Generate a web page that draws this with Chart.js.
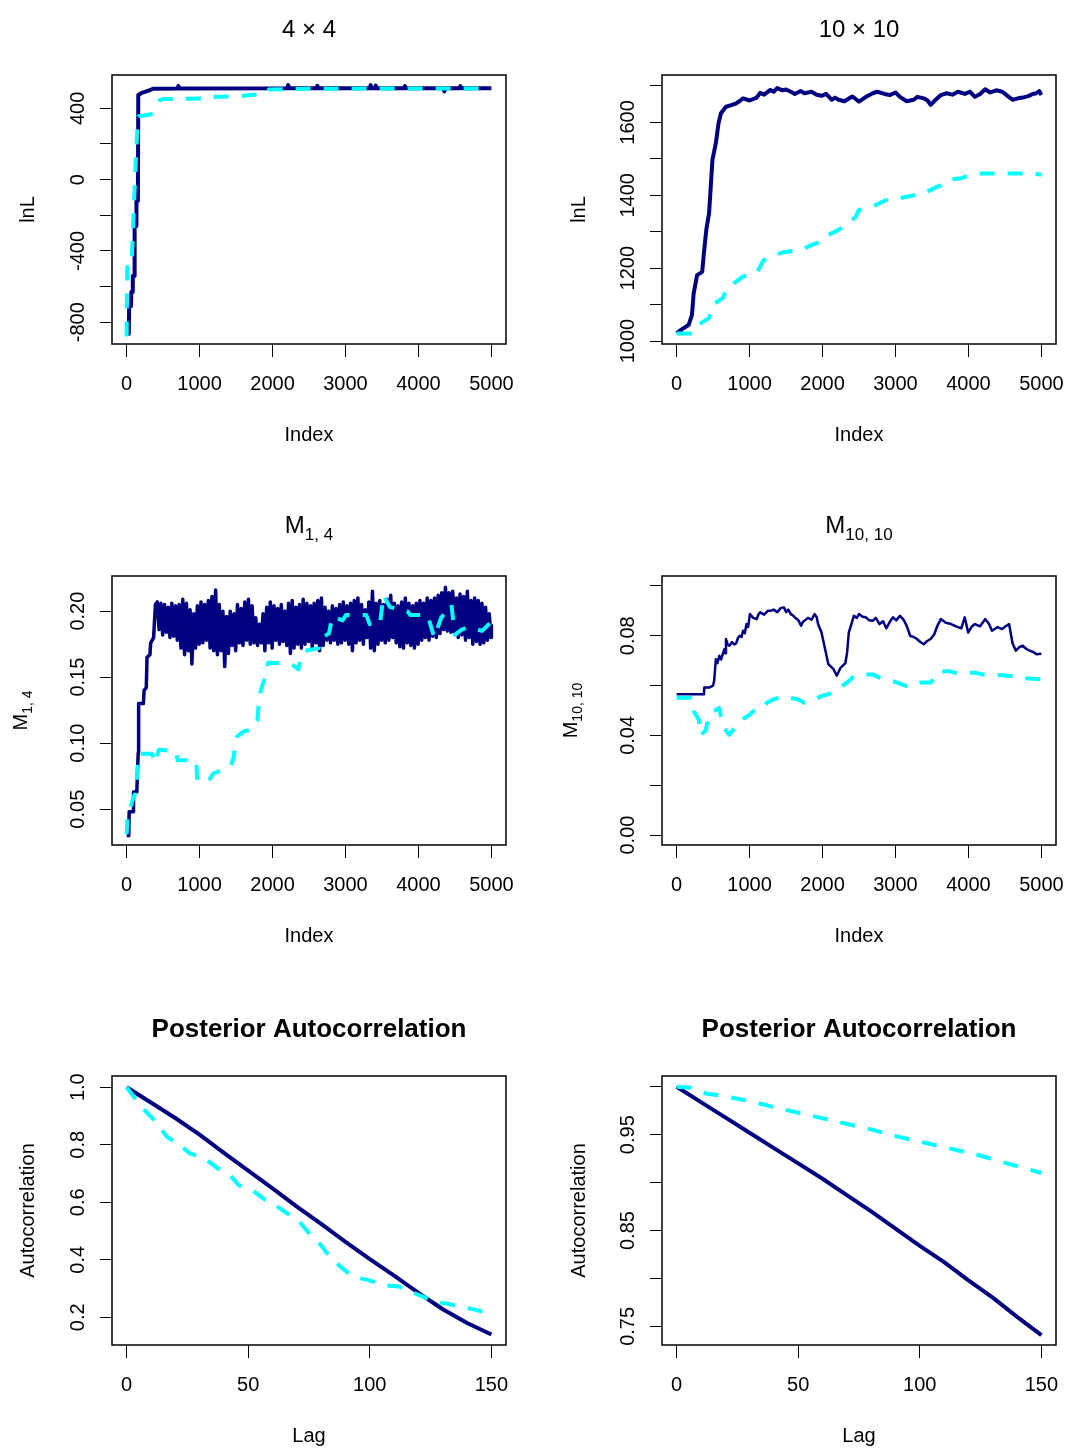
<!DOCTYPE html>
<html>
<head>
<meta charset="utf-8">
<script src="https://cdn.jsdelivr.net/npm/chart.js@4.4.1/dist/chart.umd.min.js"></script>
<style>
  html, body { margin: 0; padding: 0; background: #fff; }
  #page { position: relative; width: 1068px; height: 1448px; overflow: hidden; }
  canvas { position: absolute; }
</style>
</head>
<body>
<div id="page">
  <canvas id="p1" width="534" height="447" style="left:0;top:0"></canvas>
  <canvas id="p2" width="518" height="447" style="left:550px;top:0"></canvas>
  <canvas id="p3" width="534" height="447" style="left:0;top:501px"></canvas>
  <canvas id="p4" width="518" height="447" style="left:550px;top:501px"></canvas>
  <canvas id="p5" width="534" height="447" style="left:0;top:1001px"></canvas>
  <canvas id="p6" width="518" height="447" style="left:550px;top:1001px"></canvas>
</div>
<script>
// ── Data ───────────────────────────────────────────────────────────────────

const indexTicks = [0, 1000, 2000, 3000, 4000, 5000];
const lagTicks   = [0, 50, 100, 150];

// 4 x 4 : lnL trace
const lnL4BlueIdx = [1, 30, 35, 60, 65, 80, 85, 105, 110, 130, 135, 155, 160, 200, 300, 370, 700, 710, 720,
  2200, 2215, 2230, 2600, 2615, 2630, 3330, 3345, 3360, 3400, 3415, 3430, 3800, 3815, 3830,
  4340, 4355, 4370, 4560, 4575, 4590, 5000];
const lnL4Blue = [-866, -866, -710, -710, -630, -630, -540, -540, -260, -260, -120, -120, 475, 485, 500, 510, 511, 526, 511,
  512, 530, 512, 512, 526, 512, 512, 530, 512, 512, 527, 512, 512, 525, 512,
  512, 495, 512, 512, 525, 512, 512];
const lnL4CyanIdx = [1, 5, 10, 60, 75, 100, 130, 150, 160, 330, 400, 450, 500, 1060, 1100, 1600, 1900, 1950, 2500, 5000];
const lnL4Cyan = [-880, -610, -490, -490, -420, -150, 150, 300, 355, 365, 420, 445, 452, 455, 462, 470, 482, 505, 510, 512];
const lnL4Ticks  = [-800, -600, -400, -200, 0, 200, 400];
const lnL4Labels = ['-800', '', '-400', '', '0', '', '400'];

// 10 x 10 : lnL trace
const lnL10BlueIdx = [1, 70, 164, 210, 234, 281, 351, 374, 407, 445, 468, 491, 538, 575, 608, 677, 760,
  817, 860, 911, 1000, 1098, 1145, 1200, 1285, 1330, 1379, 1450, 1500, 1566, 1620, 1700, 1752, 1850, 1920,
  1986, 2050, 2126, 2170, 2220, 2300, 2407, 2450, 2500, 2580, 2688, 2750, 2850, 2921, 3000, 3061, 3154,
  3250, 3300, 3388, 3440, 3482, 3540, 3622, 3700, 3780, 3856, 3950, 4020, 4089, 4160, 4229, 4300, 4380,
  4463, 4540, 4604, 4680, 4744, 4820, 4880, 4931, 4970, 5000];
const lnL10Blue = [1021, 1032, 1044, 1071, 1131, 1181, 1190, 1241, 1305, 1351, 1423, 1497, 1543, 1598, 1625, 1643, 1648,
  1652, 1658, 1666, 1660, 1668, 1681, 1676, 1689, 1684, 1694, 1688, 1690, 1684, 1678, 1686, 1680, 1684, 1676,
  1673, 1678, 1662, 1668, 1662, 1658, 1671, 1665, 1657, 1668, 1680, 1684, 1678, 1675, 1682, 1670, 1658,
  1662, 1670, 1666, 1660, 1648, 1660, 1675, 1680, 1676, 1684, 1678, 1684, 1670, 1678, 1691, 1682, 1688,
  1684, 1672, 1662, 1666, 1668, 1672, 1678, 1680, 1686, 1675];
const lnL10CyanIdx = [1, 210, 257, 445, 491, 632, 701, 817, 911, 1098, 1192, 1332, 1472, 1706, 1846, 2033, 2080, 2220, 2360, 2454,
  2500, 2688, 2874, 3061, 3154, 3388, 3482, 3622, 3716, 3902, 4089, 4900, 5000];
const lnL10Cyan = [1021, 1021, 1040, 1063, 1099, 1118, 1149, 1163, 1177, 1187, 1222, 1236, 1244, 1250, 1263, 1277, 1291, 1305, 1324, 1341,
  1360, 1369, 1387, 1392, 1396, 1405, 1415, 1428, 1442, 1447, 1460, 1460, 1456];
const lnL10Ticks  = [1000, 1100, 1200, 1300, 1400, 1500, 1600, 1700];
const lnL10Labels = ['1000', '', '1200', '', '1400', '', '1600', ''];

// M[1,4] trace (burn-in, then the dense band of the chain)
const m14BlueIdx = [1, 30, 35, 90, 95, 140, 150, 160, 165, 230, 240, 270, 280, 320, 330, 370, 395,
  420, 445, 470, 495, 520, 545, 570, 595, 620, 645, 670, 695, 720, 745, 770, 795, 820, 845, 870, 895,
  920, 945, 970, 995, 1020, 1045, 1070, 1095, 1120, 1145, 1170, 1195, 1220, 1245, 1270, 1295, 1320, 1345, 1370, 1395,
  1420, 1445, 1470, 1495, 1520, 1545, 1570, 1595, 1620, 1645, 1670, 1695, 1720, 1745, 1770, 1795, 1820, 1845, 1870, 1895,
  1920, 1945, 1970, 1995, 2020, 2045, 2070, 2095, 2120, 2145, 2170, 2195, 2220, 2245, 2270, 2295, 2320, 2345, 2370, 2395,
  2420, 2445, 2470, 2495, 2520, 2545, 2570, 2595, 2620, 2645, 2670, 2695, 2720, 2745, 2770, 2795, 2820, 2845, 2870, 2895,
  2920, 2945, 2970, 2995, 3020, 3045, 3070, 3095, 3120, 3145, 3170, 3195, 3220, 3245, 3270, 3295, 3320, 3345, 3370, 3395,
  3420, 3445, 3470, 3495, 3520, 3545, 3570, 3595, 3620, 3645, 3670, 3695, 3720, 3745, 3770, 3795, 3820, 3845, 3870, 3895,
  3920, 3945, 3970, 3995, 4020, 4045, 4070, 4095, 4120, 4145, 4170, 4195, 4220, 4245, 4270, 4295, 4320, 4345, 4370, 4395,
  4420, 4445, 4470, 4495, 4520, 4545, 4570, 4595, 4620, 4645, 4670, 4695, 4720, 4745, 4770, 4795, 4820, 4845, 4870, 4895,
  4920, 4945, 4970, 4995, 5000];
const m14Blue = [0.030, 0.030, 0.048, 0.048, 0.063, 0.063, 0.080, 0.093, 0.130, 0.130, 0.140, 0.142, 0.165, 0.167, 0.176, 0.180, 0.205,
  0.207, 0.186, 0.206, 0.182, 0.205, 0.184, 0.203, 0.180, 0.206, 0.181, 0.204, 0.178, 0.205, 0.172, 0.209, 0.167, 0.206, 0.170, 0.201, 0.160,
  0.198, 0.172, 0.204, 0.175, 0.207, 0.176, 0.205, 0.178, 0.208, 0.172, 0.211, 0.170, 0.216, 0.167, 0.205, 0.170, 0.200, 0.158, 0.196, 0.168,
  0.200, 0.174, 0.198, 0.170, 0.205, 0.176, 0.202, 0.174, 0.207, 0.178, 0.209, 0.175, 0.204, 0.176, 0.195, 0.174, 0.190, 0.176, 0.198, 0.170,
  0.203, 0.176, 0.207, 0.172, 0.204, 0.178, 0.202, 0.175, 0.205, 0.177, 0.200, 0.174, 0.206, 0.168, 0.208, 0.172, 0.203, 0.175, 0.205, 0.172,
  0.209, 0.175, 0.206, 0.177, 0.204, 0.172, 0.206, 0.176, 0.208, 0.170, 0.210, 0.174, 0.203, 0.178, 0.200, 0.176, 0.204, 0.178, 0.202, 0.175,
  0.205, 0.176, 0.207, 0.178, 0.204, 0.175, 0.206, 0.170, 0.208, 0.176, 0.210, 0.178, 0.205, 0.175, 0.201, 0.180, 0.207, 0.172, 0.215, 0.170,
  0.206, 0.175, 0.208, 0.178, 0.205, 0.176, 0.209, 0.178, 0.212, 0.180, 0.206, 0.176, 0.204, 0.173, 0.207, 0.172, 0.210, 0.176, 0.206, 0.174,
  0.204, 0.172, 0.206, 0.175, 0.208, 0.178, 0.206, 0.180, 0.210, 0.178, 0.208, 0.181, 0.210, 0.180, 0.212, 0.183, 0.214, 0.186, 0.218, 0.185,
  0.214, 0.184, 0.215, 0.183, 0.210, 0.180, 0.213, 0.182, 0.211, 0.178, 0.215, 0.180, 0.208, 0.175, 0.210, 0.177, 0.208, 0.175, 0.206, 0.176,
  0.203, 0.178, 0.198, 0.180, 0.190];
const m14CyanIdx = [1, 10, 20, 45, 100, 115, 147, 161, 170, 348, 394, 441, 674, 700, 953, 970, 1140, 1187, 1420, 1467,
  1490, 1513, 1607, 1700, 1793, 1810, 1840, 1887, 1940, 2259, 2353, 2400, 2446, 2633, 2680, 2773, 2820, 2960, 3006, 3286,
  3333, 3473, 3519, 3612, 3846, 3893, 3986, 4125, 4218, 4312, 4452, 4499, 4592, 4685, 4872, 5000];
const m14Cyan = [0.031, 0.041, 0.046, 0.050, 0.060, 0.061, 0.076, 0.090, 0.092, 0.092, 0.085, 0.095, 0.094, 0.087, 0.087, 0.071, 0.073, 0.077, 0.082, 0.089,
  0.100, 0.105, 0.109, 0.110, 0.117, 0.130, 0.140, 0.148, 0.161, 0.160, 0.156, 0.167, 0.170, 0.172, 0.180, 0.183, 0.196, 0.193, 0.197, 0.197,
  0.190, 0.190, 0.212, 0.203, 0.200, 0.197, 0.197, 0.197, 0.180, 0.195, 0.205, 0.182, 0.186, 0.188, 0.185, 0.192];
const m14Ticks  = [0.05, 0.10, 0.15, 0.20];
const m14Labels = ['0.05', '0.10', '0.15', '0.20'];

// M[10,10] trace
const m1010BlueIdx = [1, 374, 380, 445, 500, 515, 538, 560, 585, 610,
  655, 665, 677, 700, 724, 760, 790, 817, 840, 864,
  890, 911, 935, 958, 980, 1005, 1050, 1098, 1120, 1145,
  1200, 1250, 1285, 1330, 1380, 1430, 1472, 1500, 1530, 1566,
  1600, 1636, 1670, 1706, 1730, 1752, 1800, 1850, 1892, 1920,
  1939, 1986, 2033, 2080, 2150, 2196, 2243, 2313, 2337, 2360,
  2430, 2470, 2500, 2550, 2594, 2640, 2688, 2730, 2781, 2830,
  2874, 2920, 2967, 3010, 3061, 3110, 3154, 3201, 3250, 3295,
  3340, 3388, 3430, 3482, 3530, 3575, 3622, 3690, 3762, 3830,
  3902, 3949, 3996, 4040, 4089, 4160, 4229, 4280, 4323, 4400,
  4463, 4510, 4557, 4604, 4650, 4700, 4744, 4790, 4838, 4890,
  4931, 5000];
const m1010Blue = [0.0565, 0.0565, 0.0592, 0.0592, 0.0600, 0.062, 0.0706, 0.069, 0.072, 0.0705,
  0.0746, 0.073, 0.0787, 0.0765, 0.076, 0.0775, 0.0765, 0.077, 0.079, 0.080,
  0.0795, 0.082, 0.081, 0.0847, 0.0835, 0.0887, 0.0872, 0.0867, 0.0885, 0.0894,
  0.0885, 0.0900, 0.090, 0.0905, 0.0895, 0.0912, 0.0914, 0.0895, 0.0905, 0.0887,
  0.0880, 0.087, 0.0862, 0.084, 0.0855, 0.086, 0.0872, 0.0865, 0.0887, 0.0875,
  0.0847, 0.0813, 0.075, 0.0686, 0.0666, 0.064, 0.067, 0.069, 0.0733, 0.0813,
  0.088, 0.0872, 0.0887, 0.0876, 0.0874, 0.0862, 0.086, 0.0872, 0.0847, 0.0858,
  0.083, 0.0855, 0.0874, 0.0862, 0.088, 0.0865, 0.084, 0.080, 0.0795, 0.0787,
  0.0775, 0.0766, 0.0778, 0.0787, 0.0805, 0.084, 0.0867, 0.0852, 0.0847, 0.0838,
  0.083, 0.0874, 0.0813, 0.0835, 0.0847, 0.0838, 0.0867, 0.0848, 0.082, 0.0835,
  0.0827, 0.0838, 0.0847, 0.077, 0.074, 0.0755, 0.076, 0.0748, 0.074, 0.0735,
  0.0726, 0.0728];
const m1010CyanIdx = [1, 210, 234, 304, 328, 398, 445, 585, 632, 724, 864, 1005, 1051, 1192, 1238, 1332, 1472, 1566, 1659, 1752,
  1799, 1892, 1986, 2080, 2126, 2220, 2267, 2360, 2407, 2500, 2688, 2827, 2967, 3154, 3295, 3342, 3482, 3575, 3716, 3809,
  4089, 4183, 4557, 4650, 5000];
const m1010Cyan = [0.0551, 0.0551, 0.0497, 0.0464, 0.040, 0.042, 0.0484, 0.051, 0.0437, 0.0403, 0.0457, 0.0484, 0.0497, 0.051, 0.0531, 0.0545, 0.0558, 0.055, 0.0545, 0.0531,
  0.0538, 0.0545, 0.0558, 0.0565, 0.0571, 0.0585, 0.0598, 0.0618, 0.0632, 0.0645, 0.0645, 0.0625, 0.0618, 0.0598, 0.0605, 0.0612, 0.0612, 0.0652, 0.0659, 0.0652,
  0.0652, 0.0645, 0.064, 0.0632, 0.0625];
const m1010Ticks  = [0, 0.02, 0.04, 0.06, 0.08, 0.10];
const m1010Labels = ['0.00', '', '0.04', '', '0.08', ''];

// Posterior autocorrelation, 4 x 4
const acf4BlueLag = [0, 10, 20, 30, 40, 50, 60, 70, 80, 90, 100, 110, 120, 130, 140, 150];
const acf4Blue    = [1.0, 0.947, 0.893, 0.835, 0.772, 0.710, 0.648, 0.585, 0.525, 0.462, 0.402, 0.345, 0.285, 0.228, 0.180, 0.140];
const acf4CyanLag = [0, 3, 8, 12, 16.5, 21, 26, 32, 37.5, 42, 46, 51.5, 57, 61, 67, 71, 75, 80, 84, 88,
  93, 99, 106, 112, 120, 127, 132.5, 144, 149];
const acf4Cyan = [1.0, 0.967, 0.915, 0.88, 0.828, 0.805, 0.77, 0.753, 0.718, 0.70, 0.66, 0.643, 0.608, 0.59, 0.556, 0.533, 0.492, 0.45, 0.405, 0.376,
  0.341, 0.33, 0.312, 0.307, 0.278, 0.254, 0.246, 0.225, 0.214];
const acf4Ticks  = [0.2, 0.4, 0.6, 0.8, 1.0];
const acf4Labels = ['0.2', '0.4', '0.6', '0.8', '1.0'];

// Posterior autocorrelation, 10 x 10
const acf10BlueLag = [0, 10, 20, 30, 40, 50, 60, 70, 80, 90, 100, 110, 120, 130, 140, 150];
const acf10Blue    = [1.0, 0.984, 0.968, 0.952, 0.936, 0.920, 0.904, 0.887, 0.870, 0.852, 0.834, 0.817, 0.798, 0.780, 0.760, 0.741];
const acf10CyanLag = [0, 6, 12, 20, 30, 43, 55, 67, 79, 91, 103, 115, 125, 136, 150];
const acf10Cyan    = [1.0, 0.999, 0.993, 0.990, 0.985, 0.977, 0.970, 0.963, 0.956, 0.948, 0.941, 0.934, 0.928, 0.920, 0.910];
const acf10Ticks  = [0.75, 0.80, 0.85, 0.90, 0.95, 1.00];
const acf10Labels = ['0.75', '', '0.85', '', '0.95', ''];

// ── Styling ────────────────────────────────────────────────────────────────

const NAVY = '#000080';
const CYAN = '#00ffff';
const FONT = "'Liberation Sans', Arial, Helvetica, sans-serif";

function pts(xs, ys) {
  return xs.map((x, i) => ({ x: x, y: ys[i] }));
}

// draw a run of text pieces (for subscripts), centred on x
function richText(ctx, parts, x, y, rot) {
  ctx.save();
  ctx.translate(x, y);
  if (rot) ctx.rotate(rot);
  ctx.fillStyle = '#000';
  ctx.textAlign = 'left';
  ctx.textBaseline = 'alphabetic';
  const fontOf = p => (p.b ? 'bold ' : '') + p.s + 'px ' + FONT;
  let total = 0;
  const widths = parts.map(p => {
    ctx.font = fontOf(p);
    const w = ctx.measureText(p.t).width;
    total += w;
    return w;
  });
  let cx = -total / 2;
  parts.forEach((p, i) => {
    ctx.font = fontOf(p);
    ctx.fillText(p.t, cx, p.dy || 0);
    cx += widths[i];
  });
  ctx.restore();
}

// R-style frame, rotated y labels and titles
function rDecor(p) {
  return {
    id: 'rDecor',
    afterDraw(chart) {
      const { ctx, chartArea: a, scales } = chart;
      ctx.save();
      ctx.strokeStyle = '#000';
      ctx.lineWidth = 1.5;
      ctx.strokeRect(a.left, a.top, a.right - a.left, a.bottom - a.top);
      p.yTicks.forEach((v, i) => {
        if (!p.yLabels[i]) return;
        richText(ctx, [{ t: p.yLabels[i], s: 20 }], 84, scales.y.getPixelForValue(v), -Math.PI / 2);
      });
      const cx = (a.left + a.right) / 2;
      const cy = (a.top + a.bottom) / 2;
      richText(ctx, p.title, cx, p.titleY, 0);
      richText(ctx, [{ t: p.xlab, s: 20 }], cx, 441, 0);
      richText(ctx, p.ylab, p.ylabX, cy, -Math.PI / 2);
      ctx.restore();
    }
  };
}

const panels = [
  { id: 'p1', xMin: -200, xMax: 5200, xTicks: indexTicks, yMin: -922, yMax: 587,
    yTicks: lnL4Ticks, yLabels: lnL4Labels, padRight: 28,
    title: [{ t: '4 × 4', s: 24 }], titleY: 37, xlab: 'Index',
    ylab: [{ t: 'lnL', s: 20 }], ylabX: 34,
    blue: pts(lnL4BlueIdx, lnL4Blue), cyan: pts(lnL4CyanIdx, lnL4Cyan), blueW: 4 },
  { id: 'p2', xMin: -200, xMax: 5200, xTicks: indexTicks, yMin: 992, yMax: 1730,
    yTicks: lnL10Ticks, yLabels: lnL10Labels, padRight: 12,
    title: [{ t: '10 × 10', s: 24 }], titleY: 37, xlab: 'Index',
    ylab: [{ t: 'lnL', s: 20 }], ylabX: 35,
    blue: pts(lnL10BlueIdx, lnL10Blue), cyan: pts(lnL10CyanIdx, lnL10Cyan), blueW: 4 },
  { id: 'p3', xMin: -200, xMax: 5200, xTicks: indexTicks, yMin: 0.0229, yMax: 0.2266,
    yTicks: m14Ticks, yLabels: m14Labels, padRight: 28,
    title: [{ t: 'M', s: 24 }, { t: '1, 4', s: 17, dy: 7 }], titleY: 32, xlab: 'Index',
    ylab: [{ t: 'M', s: 20 }, { t: '1, 4', s: 14, dy: 5 }], ylabX: 27,
    blue: pts(m14BlueIdx, m14Blue), cyan: pts(m14CyanIdx, m14Cyan), blueW: 3.5 },
  { id: 'p4', xMin: -200, xMax: 5200, xTicks: indexTicks, yMin: -0.004, yMax: 0.104,
    yTicks: m1010Ticks, yLabels: m1010Labels, padRight: 12,
    title: [{ t: 'M', s: 24 }, { t: '10, 10', s: 17, dy: 7 }], titleY: 32, xlab: 'Index',
    ylab: [{ t: 'M', s: 20 }, { t: '10, 10', s: 14, dy: 5 }], ylabX: 27,
    blue: pts(m1010BlueIdx, m1010Blue), cyan: pts(m1010CyanIdx, m1010Cyan), blueW: 2.5 },
  { id: 'p5', xMin: -6, xMax: 156, xTicks: lagTicks, yMin: 0.1037, yMax: 1.039,
    yTicks: acf4Ticks, yLabels: acf4Labels, padRight: 28,
    title: [{ t: 'Posterior Autocorrelation', s: 26, b: true }], titleY: 36, xlab: 'Lag',
    ylab: [{ t: 'Autocorrelation', s: 20 }], ylabX: 34,
    blue: pts(acf4BlueLag, acf4Blue), cyan: pts(acf4CyanLag, acf4Cyan), blueW: 4 },
  { id: 'p6', xMin: -6, xMax: 156, xTicks: lagTicks, yMin: 0.7306, yMax: 1.0112,
    yTicks: acf10Ticks, yLabels: acf10Labels, padRight: 12,
    title: [{ t: 'Posterior Autocorrelation', s: 26, b: true }], titleY: 36, xlab: 'Lag',
    ylab: [{ t: 'Autocorrelation', s: 20 }], ylabX: 35,
    blue: pts(acf10BlueLag, acf10Blue), cyan: pts(acf10CyanLag, acf10Cyan), blueW: 4 }
];

panels.forEach(p => {
  new Chart(document.getElementById(p.id), {
    type: 'line',
    data: {
      datasets: [
        { data: p.cyan, borderColor: CYAN, borderWidth: 4, borderDash: [15, 13], order: 0 },
        { data: p.blue, borderColor: NAVY, borderWidth: p.blueW, order: 1 }
      ]
    },
    options: {
      responsive: false,
      animation: false,
      events: [],
      devicePixelRatio: 1,
      layout: { padding: { top: 75, left: 0, right: p.padRight, bottom: 0 } },
      elements: {
        point: { radius: 0 },
        line: { tension: 0, fill: false, borderJoinStyle: 'round', borderCapStyle: 'butt' }
      },
      plugins: { legend: { display: false }, tooltip: { enabled: false } },
      scales: {
        x: {
          type: 'linear', min: p.xMin, max: p.xMax,
          afterBuildTicks: s => { s.ticks = p.xTicks.map(v => ({ value: v })); },
          afterFit: s => { s.height = 103; s.paddingLeft = 0; s.paddingRight = 0; },
          border: { display: false },
          grid: { drawOnChartArea: false, drawTicks: true, tickLength: 13, color: '#000', lineWidth: 1 },
          ticks: {
            color: '#000', font: { family: FONT, size: 20 }, padding: 15,
            maxRotation: 0, minRotation: 0, autoSkip: false,
            callback: v => String(v)
          }
        },
        y: {
          type: 'linear', min: p.yMin, max: p.yMax,
          afterBuildTicks: s => { s.ticks = p.yTicks.map(v => ({ value: v })); },
          afterFit: s => { s.width = 112; s.paddingTop = 0; s.paddingBottom = 0; },
          border: { display: false },
          grid: { drawOnChartArea: false, drawTicks: true, tickLength: 12, color: '#000', lineWidth: 1 },
          ticks: { callback: () => '' }
        }
      }
    },
    plugins: [rDecor(p)]
  });
});
</script>
</body>
</html>
